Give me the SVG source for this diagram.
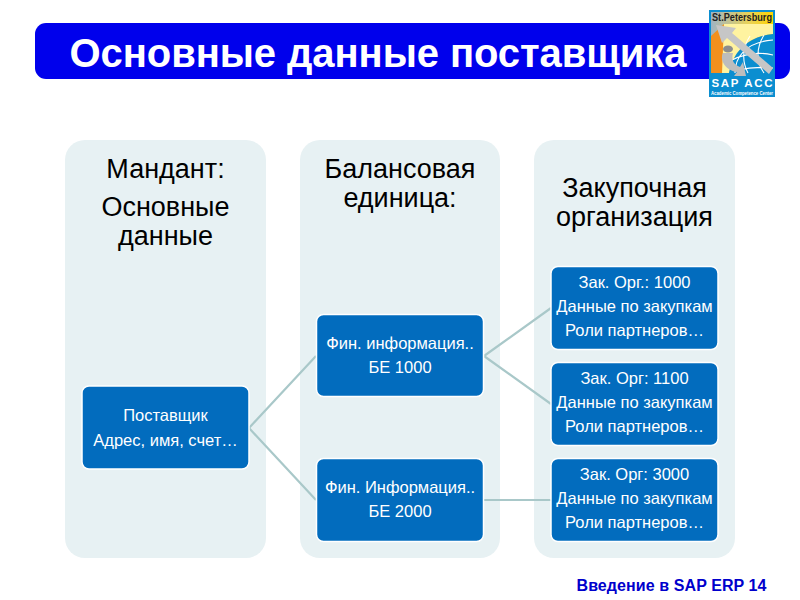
<svg xmlns="http://www.w3.org/2000/svg" width="800" height="600" viewBox="0 0 800 600">
<defs>
<linearGradient id="band" x1="0" y1="0" x2="1" y2="0"><stop offset="0" stop-color="#9fb4c4"/><stop offset=".6" stop-color="#e8d25a"/><stop offset="1" stop-color="#ffd400"/></linearGradient>
</defs>
<style>
text{font-family:"Liberation Sans",Arial,sans-serif;text-anchor:middle}
.col{fill:#e7f1f3}
.node{fill:#026cbe;stroke:#fff;stroke-width:1.5}
.nt{font-size:16.500px;fill:#fff}
.ct{font-size:27px;fill:#000}
.con{stroke:#a9c8c9;stroke-width:2.2;fill:none}
</style>
<rect width="800" height="600" fill="#fff"/>
<g id="header">
<rect x="35" y="23" width="755" height="56" rx="11" fill="#0000ec"/>
<text x="378" y="67" font-size="40" font-weight="bold" fill="#fff" textLength="617" lengthAdjust="spacing">Основные данные поставщика</text>
</g>
<g id="logo">
<rect x="709" y="10" width="66" height="87" fill="#0b8ed0"/>
<rect x="711" y="12" width="62" height="61" fill="url(#band)"/>
<path d="M711 36L724 24H745L725 73H711Z" fill="#f2901e"/>
<path d="M724 24H773V34C750 36 735 48 729 73H722Z" fill="#fff3a0"/>
<path d="M729 73C733 50 750 36 773 34V73Z" fill="#0b8ed0"/>
<g fill="none" stroke="#fff" stroke-width="1.1"><path d="M735 73C735 58 745 42 773 40M750 36C742 48 742 62 748 73M764 35C756 48 756 62 764 73M732 60Q752 50 773 55M738 70Q755 66 773 68"/></g>
<path d="M716 25L736 28L732 33L773 68L769 74L727 38L722 43Z" fill="#c6c6c6"/>
<path d="M723 53C719 61 727 71 737 72L734 76H746L743 62L740 67C734 65 731 60 733 53Z" fill="#bdbdbd"/>
<ellipse cx="728" cy="49" rx="5" ry="3.500" fill="#8d8d8d"/>
<text x="742" y="21" font-size="10" font-weight="bold" fill="#222" textLength="60" lengthAdjust="spacingAndGlyphs">St.Petersburg</text>
<text x="742" y="87" font-size="11.500" font-weight="bold" fill="#fff" textLength="61" lengthAdjust="spacing">SAP ACC</text>
<text x="742" y="95" font-size="5" font-weight="bold" fill="#fff" textLength="62" lengthAdjust="spacingAndGlyphs">Academic Competence Center</text>
</g>
<g id="col-client">
<rect class="col" x="65" y="140" width="201" height="418" rx="20"/>
<text class="ct" x="165.500" y="178">Мандант:</text>
<text class="ct" x="165.500" y="216">Основные</text>
<text class="ct" x="165.500" y="245">данные</text>
</g>
<g id="col-company">
<rect class="col" x="300" y="140" width="200" height="418" rx="20"/>
<text class="ct" x="400" y="178">Балансовая</text>
<text class="ct" x="400" y="207">единица:</text>
</g>
<g id="col-purch">
<rect class="col" x="534" y="140" width="201" height="418" rx="20"/>
<text class="ct" x="634.500" y="197">Закупочная</text>
<text class="ct" x="634.500" y="226">организация</text>
</g>
<g id="connectors">
<path class="con" d="M249 428L316 356M249 428L316 500M484 356L551 308M484 356L551 404M484 500H551"/>
</g>
<g id="n-vendor">
<rect class="node" x="82" y="386" width="167" height="83" rx="7"/>
<text class="nt" x="165.500" y="421">Поставщик</text>
<text class="nt" x="165.500" y="446">Адрес, имя, счет…</text>
</g>
<g id="n-fin1">
<rect class="node" x="316.500" y="314.500" width="167" height="82" rx="7"/>
<text class="nt" x="400" y="349">Фин. информация..</text>
<text class="nt" x="400" y="373">БЕ 1000</text>
</g>
<g id="n-fin2">
<rect class="node" x="316.500" y="458.500" width="167" height="83" rx="7"/>
<text class="nt" x="400" y="493">Фин. Информация..</text>
<text class="nt" x="400" y="517">БЕ 2000</text>
</g>
<g id="n-org1">
<rect class="node" x="551" y="266.500" width="167" height="83" rx="7"/>
<text class="nt" x="634.500" y="288">Зак. Орг.: 1000</text>
<text class="nt" x="634.500" y="312">Данные по закупкам</text>
<text class="nt" x="634.500" y="336">Роли партнеров…</text>
</g>
<g id="n-org2">
<rect class="node" x="551" y="362.500" width="167" height="83" rx="7"/>
<text class="nt" x="634.500" y="384">Зак. Орг: 1100</text>
<text class="nt" x="634.500" y="408">Данные по закупкам</text>
<text class="nt" x="634.500" y="432">Роли партнеров…</text>
</g>
<g id="n-org3">
<rect class="node" x="551" y="458.500" width="167" height="83" rx="7"/>
<text class="nt" x="634.500" y="480">Зак. Орг: 3000</text>
<text class="nt" x="634.500" y="504">Данные по закупкам</text>
<text class="nt" x="634.500" y="528">Роли партнеров…</text>
</g>
<g id="footer">
<text x="671.500" y="591" font-size="16" font-weight="bold" fill="#0000cc" textLength="190" lengthAdjust="spacing">Введение в SAP ERP  14</text>
</g>
</svg>
